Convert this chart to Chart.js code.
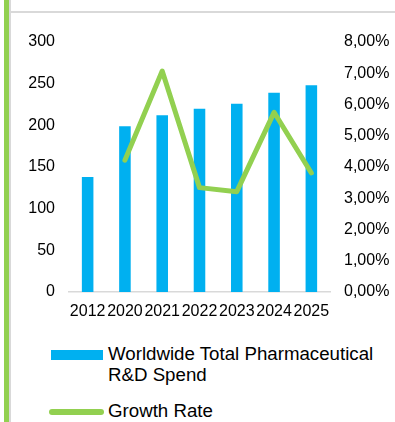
<!DOCTYPE html>
<html>
<head>
<meta charset="utf-8">
<script src="https://cdn.jsdelivr.net/npm/chart.js"></script>
<style>
  html, body { margin: 0; padding: 0; background: #fff; }
  body { width: 395px; height: 422px; position: relative; overflow: hidden;
         font-family: "Liberation Sans", Arial, sans-serif; color: #000; }
  .barra-verde { position: absolute; left: 4px; top: 0; width: 5px; height: 422px; background: #92D050; }
  .barra-gris { position: absolute; left: 9px; top: 0; width: 2px; height: 422px; background: #D9D9D9; }
  .linea-sup { position: absolute; left: 11px; right: 0; top: 11px; height: 2px; background: #D9D9D9; }
  #miGrafico { position: absolute; left: 11px; top: 13px; }
  .leyenda-item { position: absolute; left: 0; width: 395px; }
  .leyenda-texto { position: absolute; left: 108px; width: 284px; font-size: 18.7px; line-height: 21px; }
  .muestra { position: absolute; }
</style>
</head>
<body>
<div class="barra-verde"></div>
<div class="barra-gris"></div>
<div class="linea-sup"></div>
<canvas id="miGrafico" width="384" height="310"></canvas>
<div id="leyenda"></div>

<script>
// Datos del gráfico
const anios = ['2012', '2020', '2021', '2022', '2023', '2024', '2025'];
const gastoID = [138, 199, 212, 220, 226, 239, 248];          // miles de millones
const crecimiento = [null, 4.22, 7.07, 3.34, 3.21, 5.75, 3.81]; // %

const AZUL = '#00B0F0';
const VERDE = '#92D050';

Chart.defaults.font.family = '"Liberation Sans", Arial, sans-serif';
Chart.defaults.color = '#000';

const ctx = document.getElementById('miGrafico').getContext('2d');

const grafico = new Chart(ctx, {
    type: 'bar',
    data: {
        labels: anios,
        datasets: [{
            label: 'Worldwide Total Pharmaceutical R&D Spend',
            data: gastoID,
            backgroundColor: AZUL,
            categoryPercentage: 1,
            barPercentage: 0.31,
            yAxisID: 'y',
            order: 2
        }, {
            type: 'line',
            label: 'Growth Rate',
            data: crecimiento,
            borderColor: VERDE,
            backgroundColor: VERDE,
            borderWidth: 5,
            borderCapStyle: 'round',
            borderJoinStyle: 'round',
            pointRadius: 0,
            tension: 0,
            yAxisID: 'y1',
            order: 1
        }]
    },
    options: {
        responsive: false,
        animation: false,
        layout: { padding: { top: 29 } },
        plugins: {
            legend: { display: false },
            tooltip: { enabled: false }
        },
        scales: {
            x: {
                grid: { display: false, drawTicks: false },
                border: { display: true, color: '#D9D9D9', width: 1.5 },
                ticks: { font: { size: 16 }, padding: 10, autoSkip: false, maxRotation: 0 },
                afterFit: s => { s.height = 31; }
            },
            y: {
                position: 'left',
                min: 0,
                max: 300,
                grid: { display: false, drawTicks: false },
                border: { display: false },
                ticks: { stepSize: 50, font: { size: 16 }, padding: 14 },
                afterFit: s => { s.width = 58; }
            },
            y1: {
                position: 'right',
                min: 0,
                max: 8,
                grid: { display: false, drawTicks: false },
                border: { display: false },
                ticks: {
                    stepSize: 1,
                    font: { size: 16 },
                    padding: 14,
                    callback: v => v.toFixed(2).replace('.', ',') + '%'
                },
                afterFit: s => { s.width = 65; }
            }
        }
    }
});

// Leyenda en HTML (el texto largo se parte en dos líneas)
const leyenda = document.getElementById('leyenda');
const filas = [
    { top: 343, muestra: { left: 51, top: 7, width: 52, height: 10, radius: 0 } },
    { top: 400, muestra: { left: 49, top: 9, width: 55, height: 5.5, radius: 3 } }
];
grafico.data.datasets.forEach((ds, i) => {
    const fila = filas[i];
    const item = document.createElement('div');
    item.className = 'leyenda-item';
    item.style.top = fila.top + 'px';

    const m = document.createElement('div');
    m.className = 'muestra';
    m.style.left = fila.muestra.left + 'px';
    m.style.top = fila.muestra.top + 'px';
    m.style.width = fila.muestra.width + 'px';
    m.style.height = fila.muestra.height + 'px';
    m.style.borderRadius = fila.muestra.radius + 'px';
    m.style.background = ds.type === 'line' ? ds.borderColor : ds.backgroundColor;

    const t = document.createElement('div');
    t.className = 'leyenda-texto';
    t.textContent = ds.label;

    item.appendChild(m);
    item.appendChild(t);
    leyenda.appendChild(item);
});
</script>
</body>
</html>
